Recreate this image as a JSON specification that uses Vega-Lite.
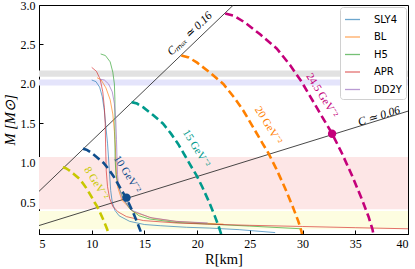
{
  "$schema": "https://vega.github.io/schema/vega-lite/v6.json",
  "width": 369,
  "height": 229,
  "autosize": {"type": "none"},
  "padding": {"left": 39, "top": 5, "right": 7, "bottom": 35},
  "config": {
    "view": {"stroke": "black", "strokeWidth": 1},
    "axis": {
      "grid": false, "domainColor": "black", "tickColor": "black",
      "labelFont": "Liberation Serif", "labelFontSize": 12, "labelColor": "black",
      "titleFont": "Liberation Serif", "titleFontSize": 14.5, "titleFontWeight": "normal", "titleColor": "black",
      "tickSize": -4, "labelPadding": 8
    },
    "legend": {
      "orient": "top-right", "offset": 2, "fillColor": "white", "strokeColor": "#d0d0d0",
      "cornerRadius": 3, "padding": 4, "labelFont": "DejaVu Sans", "labelFontSize": 10,
      "labelColor": "black", "symbolType": "stroke", "symbolSize": 225, "symbolStrokeWidth": 1.3,
      "labelOffset": 13, "rowPadding": 3.5
    }
  },
  "datasets": {
    "bands": [
      {"band": "grey", "lo": 2.09, "hi": 2.17},
      {"band": "blue", "lo": 1.98, "hi": 2.055},
      {"band": "pink", "lo": 0.415, "hi": 1.075},
      {"band": "yellow", "lo": 0.16, "hi": 0.39}
    ],
    "clines": [
      {"line": "cmax", "R": 5, "M": 0.64},
      {"line": "cmax", "R": 23.44, "M": 3.0},
      {"line": "c06", "R": 5, "M": 0.207},
      {"line": "c06", "R": 40, "M": 1.656}
    ],
    "eos": [
      {"eos": "SLY4", "i": 1, "R": 10.0, "M": 2.05},
      {"eos": "SLY4", "i": 2, "R": 10.4, "M": 2.03},
      {"eos": "SLY4", "i": 3, "R": 10.75, "M": 1.96},
      {"eos": "SLY4", "i": 4, "R": 11.0, "M": 1.84},
      {"eos": "SLY4", "i": 5, "R": 11.2, "M": 1.66},
      {"eos": "SLY4", "i": 6, "R": 11.35, "M": 1.45},
      {"eos": "SLY4", "i": 7, "R": 11.5, "M": 1.25},
      {"eos": "SLY4", "i": 8, "R": 11.6, "M": 1.05},
      {"eos": "SLY4", "i": 9, "R": 11.7, "M": 0.85},
      {"eos": "SLY4", "i": 10, "R": 11.8, "M": 0.65},
      {"eos": "SLY4", "i": 11, "R": 11.95, "M": 0.5},
      {"eos": "SLY4", "i": 12, "R": 12.2, "M": 0.4},
      {"eos": "SLY4", "i": 13, "R": 12.6, "M": 0.33},
      {"eos": "SLY4", "i": 14, "R": 13.6, "M": 0.26},
      {"eos": "SLY4", "i": 15, "R": 15.0, "M": 0.22},
      {"eos": "SLY4", "i": 16, "R": 16.5, "M": 0.205},
      {"eos": "SLY4", "i": 17, "R": 19.0, "M": 0.185},
      {"eos": "SLY4", "i": 18, "R": 21.2, "M": 0.175},
      {"eos": "SLY4", "i": 19, "R": 24.0, "M": 0.155},
      {"eos": "SLY4", "i": 20, "R": 27.4, "M": 0.118},
      {"eos": "BL", "i": 1, "R": 10.5, "M": 2.08},
      {"eos": "BL", "i": 2, "R": 10.9, "M": 2.05},
      {"eos": "BL", "i": 3, "R": 11.35, "M": 1.95},
      {"eos": "BL", "i": 4, "R": 11.75, "M": 1.8},
      {"eos": "BL", "i": 5, "R": 12.0, "M": 1.62},
      {"eos": "BL", "i": 6, "R": 12.15, "M": 1.4},
      {"eos": "BL", "i": 7, "R": 12.25, "M": 1.2},
      {"eos": "BL", "i": 8, "R": 12.3, "M": 1.0},
      {"eos": "BL", "i": 9, "R": 12.35, "M": 0.85},
      {"eos": "BL", "i": 10, "R": 12.45, "M": 0.7},
      {"eos": "BL", "i": 11, "R": 12.85, "M": 0.53},
      {"eos": "BL", "i": 12, "R": 13.95, "M": 0.38},
      {"eos": "BL", "i": 13, "R": 15.8, "M": 0.3},
      {"eos": "BL", "i": 14, "R": 18.0, "M": 0.26},
      {"eos": "BL", "i": 15, "R": 21.0, "M": 0.235},
      {"eos": "BL", "i": 16, "R": 22.5, "M": 0.225},
      {"eos": "H5", "i": 1, "R": 10.85, "M": 2.38},
      {"eos": "H5", "i": 2, "R": 11.3, "M": 2.36},
      {"eos": "H5", "i": 3, "R": 11.75, "M": 2.28},
      {"eos": "H5", "i": 4, "R": 12.0, "M": 2.15},
      {"eos": "H5", "i": 5, "R": 12.15, "M": 2.0},
      {"eos": "H5", "i": 6, "R": 12.2, "M": 1.8},
      {"eos": "H5", "i": 7, "R": 12.2, "M": 1.55},
      {"eos": "H5", "i": 8, "R": 12.2, "M": 1.3},
      {"eos": "H5", "i": 9, "R": 12.22, "M": 1.05},
      {"eos": "H5", "i": 10, "R": 12.3, "M": 0.85},
      {"eos": "H5", "i": 11, "R": 12.55, "M": 0.7},
      {"eos": "H5", "i": 12, "R": 13.0, "M": 0.55},
      {"eos": "H5", "i": 13, "R": 13.6, "M": 0.42},
      {"eos": "H5", "i": 14, "R": 14.5, "M": 0.33},
      {"eos": "H5", "i": 15, "R": 15.5, "M": 0.29},
      {"eos": "H5", "i": 16, "R": 18.1, "M": 0.245},
      {"eos": "H5", "i": 17, "R": 21.2, "M": 0.225},
      {"eos": "H5", "i": 18, "R": 25.0, "M": 0.2},
      {"eos": "H5", "i": 19, "R": 29.9, "M": 0.166},
      {"eos": "APR", "i": 1, "R": 10.0, "M": 2.21},
      {"eos": "APR", "i": 2, "R": 10.45, "M": 2.16},
      {"eos": "APR", "i": 3, "R": 10.8, "M": 2.06},
      {"eos": "APR", "i": 4, "R": 11.05, "M": 1.9},
      {"eos": "APR", "i": 5, "R": 11.2, "M": 1.7},
      {"eos": "APR", "i": 6, "R": 11.28, "M": 1.5},
      {"eos": "APR", "i": 7, "R": 11.32, "M": 1.2},
      {"eos": "APR", "i": 8, "R": 11.38, "M": 0.9},
      {"eos": "APR", "i": 9, "R": 11.5, "M": 0.7},
      {"eos": "APR", "i": 10, "R": 11.7, "M": 0.55},
      {"eos": "APR", "i": 11, "R": 12.0, "M": 0.45},
      {"eos": "APR", "i": 12, "R": 12.5, "M": 0.38},
      {"eos": "APR", "i": 13, "R": 13.3, "M": 0.32},
      {"eos": "APR", "i": 14, "R": 14.9, "M": 0.27},
      {"eos": "APR", "i": 15, "R": 18.0, "M": 0.24},
      {"eos": "APR", "i": 16, "R": 21.0, "M": 0.225},
      {"eos": "APR", "i": 17, "R": 25.0, "M": 0.21},
      {"eos": "APR", "i": 18, "R": 30.0, "M": 0.195},
      {"eos": "APR", "i": 19, "R": 35.0, "M": 0.18},
      {"eos": "APR", "i": 20, "R": 40.0, "M": 0.166},
      {"eos": "DD2Y", "i": 1, "R": 10.8, "M": 2.06},
      {"eos": "DD2Y", "i": 2, "R": 11.2, "M": 2.05},
      {"eos": "DD2Y", "i": 3, "R": 11.6, "M": 2.0},
      {"eos": "DD2Y", "i": 4, "R": 11.95, "M": 1.9},
      {"eos": "DD2Y", "i": 5, "R": 12.15, "M": 1.75},
      {"eos": "DD2Y", "i": 6, "R": 12.28, "M": 1.55},
      {"eos": "DD2Y", "i": 7, "R": 12.35, "M": 1.3},
      {"eos": "DD2Y", "i": 8, "R": 12.4, "M": 1.05},
      {"eos": "DD2Y", "i": 9, "R": 12.45, "M": 0.85},
      {"eos": "DD2Y", "i": 10, "R": 12.55, "M": 0.7},
      {"eos": "DD2Y", "i": 11, "R": 12.9, "M": 0.55},
      {"eos": "DD2Y", "i": 12, "R": 13.8, "M": 0.4},
      {"eos": "DD2Y", "i": 13, "R": 15.5, "M": 0.31},
      {"eos": "DD2Y", "i": 14, "R": 18.0, "M": 0.26},
      {"eos": "DD2Y", "i": 15, "R": 21.0, "M": 0.24}
    ],
    "dash": [
      {"g": "8", "i": 1, "R": 7.26, "M": 0.944},
      {"g": "8", "i": 2, "R": 7.54, "M": 0.934},
      {"g": "8", "i": 3, "R": 7.85, "M": 0.908},
      {"g": "8", "i": 4, "R": 8.32, "M": 0.858},
      {"g": "8", "i": 5, "R": 8.82, "M": 0.8},
      {"g": "8", "i": 6, "R": 9.23, "M": 0.731},
      {"g": "8", "i": 7, "R": 9.58, "M": 0.663},
      {"g": "8", "i": 8, "R": 9.93, "M": 0.582},
      {"g": "8", "i": 9, "R": 10.28, "M": 0.499},
      {"g": "8", "i": 10, "R": 10.52, "M": 0.448},
      {"g": "8", "i": 11, "R": 10.8, "M": 0.369},
      {"g": "8", "i": 12, "R": 11.12, "M": 0.274},
      {"g": "8", "i": 13, "R": 11.41, "M": 0.179},
      {"g": "8", "i": 14, "R": 11.62, "M": 0.104},
      {"g": "8", "i": 15, "R": 11.74, "M": 0.052},
      {"g": "10", "i": 1, "R": 9.16, "M": 1.18},
      {"g": "10", "i": 2, "R": 9.5, "M": 1.168},
      {"g": "10", "i": 3, "R": 9.9, "M": 1.135},
      {"g": "10", "i": 4, "R": 10.49, "M": 1.073},
      {"g": "10", "i": 5, "R": 11.13, "M": 1.0},
      {"g": "10", "i": 6, "R": 11.64, "M": 0.914},
      {"g": "10", "i": 7, "R": 12.08, "M": 0.829},
      {"g": "10", "i": 8, "R": 12.52, "M": 0.727},
      {"g": "10", "i": 9, "R": 12.97, "M": 0.624},
      {"g": "10", "i": 10, "R": 13.25, "M": 0.562},
      {"g": "10", "i": 11, "R": 13.62, "M": 0.461},
      {"g": "10", "i": 12, "R": 14.02, "M": 0.343},
      {"g": "10", "i": 13, "R": 14.38, "M": 0.224},
      {"g": "10", "i": 14, "R": 14.65, "M": 0.13},
      {"g": "10", "i": 15, "R": 14.8, "M": 0.065},
      {"g": "15", "i": 1, "R": 13.78, "M": 1.77},
      {"g": "15", "i": 2, "R": 14.3, "M": 1.752},
      {"g": "15", "i": 3, "R": 14.9, "M": 1.703},
      {"g": "15", "i": 4, "R": 15.79, "M": 1.61},
      {"g": "15", "i": 5, "R": 16.75, "M": 1.5},
      {"g": "15", "i": 6, "R": 17.52, "M": 1.371},
      {"g": "15", "i": 7, "R": 18.18, "M": 1.244},
      {"g": "15", "i": 8, "R": 18.85, "M": 1.091},
      {"g": "15", "i": 9, "R": 19.52, "M": 0.936},
      {"g": "15", "i": 10, "R": 19.94, "M": 0.843},
      {"g": "15", "i": 11, "R": 20.5, "M": 0.692},
      {"g": "15", "i": 12, "R": 21.1, "M": 0.515},
      {"g": "15", "i": 13, "R": 21.65, "M": 0.336},
      {"g": "15", "i": 14, "R": 22.05, "M": 0.195},
      {"g": "15", "i": 15, "R": 22.28, "M": 0.098},
      {"g": "15", "i": 16, "R": 22.35, "M": 0.045},
      {"g": "20", "i": 1, "R": 18.5, "M": 2.36},
      {"g": "20", "i": 2, "R": 19.2, "M": 2.336},
      {"g": "20", "i": 3, "R": 20.0, "M": 2.27},
      {"g": "20", "i": 4, "R": 21.2, "M": 2.146},
      {"g": "20", "i": 5, "R": 22.48, "M": 2.0},
      {"g": "20", "i": 6, "R": 23.52, "M": 1.828},
      {"g": "20", "i": 7, "R": 24.4, "M": 1.658},
      {"g": "20", "i": 8, "R": 25.3, "M": 1.454},
      {"g": "20", "i": 9, "R": 26.2, "M": 1.248},
      {"g": "20", "i": 10, "R": 26.76, "M": 1.124},
      {"g": "20", "i": 11, "R": 27.52, "M": 0.922},
      {"g": "20", "i": 12, "R": 28.32, "M": 0.686},
      {"g": "20", "i": 13, "R": 29.06, "M": 0.448},
      {"g": "20", "i": 14, "R": 29.6, "M": 0.26},
      {"g": "20", "i": 15, "R": 29.9, "M": 0.13},
      {"g": "20", "i": 16, "R": 30.0, "M": 0.06},
      {"g": "24.5", "i": 1, "R": 22.66, "M": 2.891},
      {"g": "24.5", "i": 2, "R": 23.52, "M": 2.862},
      {"g": "24.5", "i": 3, "R": 24.5, "M": 2.781},
      {"g": "24.5", "i": 4, "R": 25.97, "M": 2.629},
      {"g": "24.5", "i": 5, "R": 27.54, "M": 2.45},
      {"g": "24.5", "i": 6, "R": 28.81, "M": 2.239},
      {"g": "24.5", "i": 7, "R": 29.89, "M": 2.031},
      {"g": "24.5", "i": 8, "R": 30.99, "M": 1.781},
      {"g": "24.5", "i": 9, "R": 32.1, "M": 1.529},
      {"g": "24.5", "i": 10, "R": 32.78, "M": 1.377},
      {"g": "24.5", "i": 11, "R": 33.71, "M": 1.129},
      {"g": "24.5", "i": 12, "R": 34.69, "M": 0.84},
      {"g": "24.5", "i": 13, "R": 35.6, "M": 0.549},
      {"g": "24.5", "i": 14, "R": 36.26, "M": 0.319},
      {"g": "24.5", "i": 15, "R": 36.63, "M": 0.159},
      {"g": "24.5", "i": 16, "R": 36.75, "M": 0.074}
    ],
    "dots": [
      {"g": "10", "R": 13.3, "M": 0.56},
      {"g": "24.5", "R": 32.8, "M": 1.37}
    ],
    "labels": [
      {"g": "8", "txt": "8 GeV⁻²", "R": 10.41, "M": 0.743},
      {"g": "10", "txt": "10 GeV⁻²", "R": 13.35, "M": 0.856},
      {"g": "15", "txt": "15 GeV⁻²", "R": 19.9, "M": 1.184},
      {"g": "20", "txt": "20 GeV⁻²", "R": 26.73, "M": 1.474},
      {"g": "24.5", "txt": "24.5 GeV⁻²", "R": 31.82, "M": 1.853}
    ],
    "linelabels": [
      {"txt": "Cₘₐₓ ≃ 0.16", "R": 19.33, "M": 2.634, "kind": "cmax"},
      {"txt": "C ≃ 0.06", "R": 37.26, "M": 1.588, "kind": "c06"}
    ]
  },
  "layer": [
    {
      "data": {"name": "bands"},
      "mark": {"type": "rect", "clip": true},
      "encoding": {
        "x": {"datum": 5, "type": "quantitative", "scale": {"domain": [5, 40], "nice": false, "zero": false},
              "axis": {"values": [5, 10, 15, 20, 25, 30, 35, 40], "title": "R[km]", "titlePadding": 3}},
        "x2": {"datum": 40},
        "y": {"field": "lo", "type": "quantitative", "scale": {"domain": [0.1, 3.0], "nice": false, "zero": false},
              "axis": {"values": [0.5, 1.0, 1.5, 2.0, 2.5, 3.0], "format": ".1f", "title": "M [M⊙]", "titleFontStyle": "italic", "titlePadding": 3}},
        "y2": {"field": "hi"},
        "fill": {"field": "band", "type": "nominal", "legend": null,
                 "scale": {"domain": ["grey", "blue", "pink", "yellow"], "range": ["#e2e2e2", "#e4e4fb", "#fde6e6", "#fdfde0"]}}
      }
    },
    {
      "data": {"name": "clines"},
      "mark": {"type": "line", "color": "#333333", "strokeWidth": 0.9, "clip": true},
      "encoding": {
        "x": {"field": "R", "type": "quantitative"},
        "y": {"field": "M", "type": "quantitative"},
        "detail": {"field": "line"}
      }
    },
    {
      "data": {"name": "eos"},
      "mark": {"type": "line", "strokeWidth": 1, "opacity": 0.65, "clip": true},
      "encoding": {
        "x": {"field": "R", "type": "quantitative"},
        "y": {"field": "M", "type": "quantitative"},
        "order": {"field": "i", "type": "quantitative"},
        "color": {"field": "eos", "type": "nominal", "title": null,
                  "scale": {"domain": ["SLY4", "BL", "H5", "APR", "DD2Y"], "range": ["#1f77b4", "#ff7f0e", "#2ca02c", "#d62728", "#9467bd"]},
                  "legend": {"encode": {"symbols": {"update": {"stroke": {"scale": "color", "field": "value"}, "opacity": {"value": 0.6}, "strokeWidth": {"value": 1.3}}}}}}
      }
    },
    {
      "data": {"name": "dash"},
      "mark": {"type": "line", "strokeWidth": 2.6, "strokeDash": [8, 4], "clip": true},
      "encoding": {
        "x": {"field": "R", "type": "quantitative"},
        "y": {"field": "M", "type": "quantitative"},
        "order": {"field": "i", "type": "quantitative"},
        "stroke": {"field": "g", "type": "nominal", "legend": null,
                   "scale": {"domain": ["8", "10", "15", "20", "24.5"], "range": ["#c8c800", "#0f4d8c", "#009a8c", "#ff8000", "#c4007a"]}}
      }
    },
    {
      "data": {"name": "dots"},
      "mark": {"type": "circle", "size": 70, "opacity": 1},
      "encoding": {
        "x": {"field": "R", "type": "quantitative"},
        "y": {"field": "M", "type": "quantitative"},
        "fill": {"field": "g", "type": "nominal", "legend": null,
                 "scale": {"domain": ["8", "10", "15", "20", "24.5"], "range": ["#c8c800", "#0f4d8c", "#009a8c", "#ff8000", "#c4007a"]}}
      }
    },
    {
      "data": {"name": "labels"},
      "mark": {"type": "text", "angle": 58, "font": "Liberation Serif", "fontSize": 11, "align": "center", "baseline": "middle"},
      "encoding": {
        "x": {"field": "R", "type": "quantitative"},
        "y": {"field": "M", "type": "quantitative"},
        "text": {"field": "txt"},
        "fill": {"field": "g", "type": "nominal", "legend": null,
                 "scale": {"domain": ["8", "10", "15", "20", "24.5"], "range": ["#c8c800", "#0f4d8c", "#009a8c", "#ff8000", "#c4007a"]}}
      }
    },
    {
      "data": {"name": "linelabels"},
      "transform": [{"filter": "datum.kind == 'cmax'"}],
      "mark": {"type": "text", "angle": -44, "font": "Liberation Serif", "fontSize": 11.5, "fontStyle": "italic", "color": "black", "align": "center", "baseline": "middle"},
      "encoding": {
        "x": {"field": "R", "type": "quantitative"},
        "y": {"field": "M", "type": "quantitative"},
        "text": {"field": "txt"}
      }
    },
    {
      "data": {"name": "linelabels"},
      "transform": [{"filter": "datum.kind == 'c06'"}],
      "mark": {"type": "text", "angle": -17, "font": "Liberation Serif", "fontSize": 11.5, "fontStyle": "italic", "color": "black", "align": "center", "baseline": "middle"},
      "encoding": {
        "x": {"field": "R", "type": "quantitative"},
        "y": {"field": "M", "type": "quantitative"},
        "text": {"field": "txt"}
      }
    }
  ],
  "resolve": {"scale": {"fill": "independent"}}
}
